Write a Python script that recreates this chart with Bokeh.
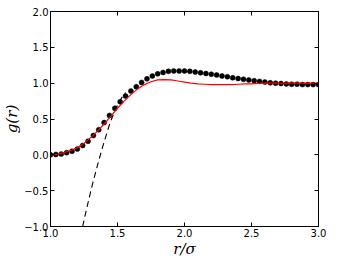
from bokeh.plotting import figure
from bokeh.models import LinearAxis, FixedTicker, Range1d, CustomLabelingPolicy
from bokeh.embed import file_html
from bokeh.resources import INLINE

# simulation points
r_dots = [1.00, 1.04, 1.08, 1.12, 1.16, 1.20, 1.24, 1.28, 1.32, 1.36,
          1.40, 1.44, 1.48, 1.52, 1.56, 1.60, 1.64, 1.68, 1.72, 1.76,
          1.80, 1.84, 1.88, 1.92, 1.96, 2.00, 2.04, 2.08, 2.12, 2.16,
          2.20, 2.24, 2.28, 2.32, 2.36, 2.40, 2.44, 2.48, 2.52, 2.56,
          2.60, 2.64, 2.68, 2.72, 2.76, 2.80, 2.84, 2.88, 2.92, 2.96, 3.00]
g_dots = [0.00, 0.005, 0.01, 0.03, 0.05, 0.08, 0.13, 0.19, 0.27, 0.35,
          0.45, 0.55, 0.65, 0.74, 0.82, 0.89, 0.95, 1.01, 1.06, 1.10,
          1.13, 1.15, 1.165, 1.17, 1.17, 1.17, 1.165, 1.155, 1.145, 1.135,
          1.125, 1.115, 1.10, 1.09, 1.075, 1.065, 1.055, 1.045, 1.035, 1.025,
          1.015, 1.005, 1.00, 0.995, 0.99, 0.985, 0.985, 0.98, 0.98, 0.98, 0.98]

# theory (red)
r_line = [1.00, 1.05, 1.10, 1.15, 1.20, 1.25, 1.30, 1.35, 1.40, 1.45,
          1.50, 1.55, 1.60, 1.65, 1.70, 1.75, 1.80, 1.85, 1.90, 1.95,
          2.00, 2.05, 2.10, 2.15, 2.20, 2.25, 2.30, 2.35, 2.40, 2.45,
          2.50, 2.55, 2.60, 2.65, 2.70, 2.75, 2.80, 2.85, 2.90, 2.95, 3.00]
g_line = [0.00, 0.01, 0.03, 0.06, 0.10, 0.16, 0.24, 0.33, 0.43, 0.54,
          0.65, 0.75, 0.84, 0.92, 0.98, 1.02, 1.045, 1.05, 1.045, 1.03,
          1.015, 1.00, 0.99, 0.985, 0.98, 0.98, 0.98, 0.98, 0.985, 0.99,
          0.99, 0.995, 1.00, 1.00, 1.00, 1.00, 1.00, 1.00, 1.00, 1.00, 1.00]

# asymptotic (dashed)
r_dash = [1.24, 1.26, 1.28, 1.30, 1.32, 1.34, 1.36, 1.38, 1.40, 1.42,
          1.44, 1.46, 1.48, 1.50, 1.52, 1.54, 1.56]
g_dash = [-1.00, -0.83, -0.67, -0.51, -0.36, -0.22, -0.08, 0.05, 0.18, 0.30,
          0.42, 0.52, 0.61, 0.69, 0.76, 0.82, 0.87]

x_ticks = [1.0, 1.5, 2.0, 2.5, 3.0]
y_ticks = [-1.0, -0.5, 0.0, 0.5, 1.0, 1.5, 2.0]
x_labels = ["1.0", "1.5", "2.0", "2.5", "3.0"]
y_labels = ["\u22121.0", "\u22120.5", "0.0", "0.5", "1.0", "1.5", "2.0"]

p = figure(frame_width=268, frame_height=215, output_backend="svg",
           toolbar_location=None,
           x_range=Range1d(1.0, 3.0), y_range=Range1d(-1.0, 2.0),
           min_border_left=46, min_border_right=8, min_border_top=5,
           min_border_bottom=30, x_axis_label="r/\u03c3", y_axis_label="g(r)")
p.grid.visible = False
p.outline_line_color = "black"
p.background_fill_color = "white"
p.border_fill_color = "white"

hide_labels = CustomLabelingPolicy(code="""
    for (const i of indices)
        indices.unset(i)
""")

def style(ax, ticks, labels, show):
    ax.ticker = FixedTicker(ticks=ticks)
    ax.major_tick_in = 4
    ax.major_tick_out = 0
    ax.minor_tick_in = 0
    ax.minor_tick_out = 0
    ax.axis_line_color = "black"
    ax.major_tick_line_color = "black"
    if show:
        ax.major_label_overrides = {t: l for t, l in zip(ticks, labels)}
        ax.major_label_text_font = "DejaVu Sans"
        ax.major_label_text_font_size = "10px"
        ax.major_label_text_color = "black"
        ax.major_label_standoff = 2
    else:
        ax.major_label_policy = hide_labels
        ax.major_label_standoff = 0

style(p.xaxis[0], x_ticks, x_labels, True)
style(p.yaxis[0], y_ticks, y_labels, True)
for ax in (p.xaxis[0], p.yaxis[0]):
    ax.axis_label_text_font = "DejaVu Serif"
    ax.axis_label_text_font_style = "italic"
    ax.axis_label_text_font_size = "15px"
    ax.axis_label_text_color = "black"
    ax.axis_label_standoff = 0

top = LinearAxis()
style(top, x_ticks, x_labels, False)
p.add_layout(top, "above")
right = LinearAxis()
style(right, y_ticks, y_labels, False)
p.add_layout(right, "right")

p.scatter(r_dots, g_dots, size=5, color="black", line_width=0.5)
p.line(r_dash, g_dash, line_color="black", line_width=1.1, line_dash="6 4")
p.line(r_line, g_line, line_color="red", line_width=1.2)

open("out.html", "w").write(file_html(p, INLINE))
